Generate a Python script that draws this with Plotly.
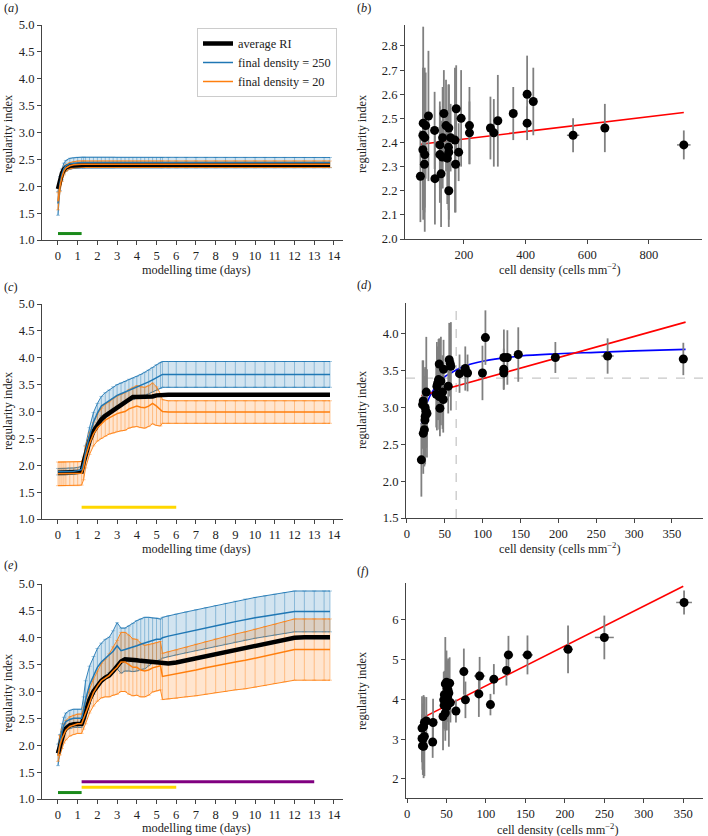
import plotly.graph_objects as go

# ---------------------------------------------------------------- data
T = [0, 0.1, 0.2, 0.3, 0.4, 0.6, 0.8, 1.0, 1.2, 1.3, 1.4,
     1.6, 1.8, 2.0, 2.2, 2.4, 2.6, 2.8, 3.0, 3.2, 3.4, 3.6, 3.8, 4.0, 4.2,
     4.4, 4.6, 4.8, 5.0, 5.2, 5.3, 5.6,
     6.0, 6.5, 7.0, 7.5, 8.0, 8.5, 9.0, 9.5, 10.0, 10.5, 11.0, 11.5, 12.0,
     12.5, 13.0, 13.5, 13.8]

# panel (a)
a_avg = [1.95, 2.12, 2.24, 2.31, 2.35, 2.38, 2.39, 2.40, 2.40, 2.40, 2.40,
         2.40, 2.40, 2.40, 2.40, 2.40, 2.40, 2.40, 2.40, 2.40, 2.40, 2.40, 2.40, 2.40, 2.40,
         2.40, 2.40, 2.40, 2.40, 2.40, 2.40, 2.40,
         2.40, 2.40, 2.40, 2.40, 2.40, 2.40, 2.40, 2.40, 2.40, 2.40, 2.40, 2.40, 2.40,
         2.40, 2.40, 2.40, 2.40]
a_blue = [1.68, 2.05, 2.22, 2.33, 2.38, 2.42, 2.43, 2.44, 2.44, 2.44, 2.44,
          2.44, 2.44, 2.44, 2.44, 2.44, 2.44, 2.44, 2.44, 2.44, 2.44, 2.44, 2.44, 2.44, 2.44,
          2.44, 2.44, 2.44, 2.44, 2.44, 2.44, 2.44,
          2.44, 2.44, 2.44, 2.44, 2.44, 2.44, 2.44, 2.44, 2.44, 2.44, 2.44, 2.44, 2.44,
          2.44, 2.44, 2.44, 2.44]
a_blue_err = [0.22, 0.13, 0.10, 0.10, 0.10, 0.10, 0.10, 0.10, 0.10, 0.10, 0.10,
              0.10, 0.10, 0.10, 0.10, 0.10, 0.10, 0.10, 0.095, 0.095, 0.095, 0.095, 0.095, 0.095, 0.095,
              0.095, 0.095, 0.095, 0.095, 0.095, 0.095, 0.095,
              0.095, 0.095, 0.095, 0.095, 0.095, 0.095, 0.095, 0.095, 0.095, 0.095, 0.095, 0.095, 0.095,
              0.095, 0.095, 0.095, 0.095]
a_orange = [1.72, 2.00, 2.17, 2.28, 2.34, 2.38, 2.40, 2.41, 2.41, 2.41, 2.41,
            2.41, 2.41, 2.41, 2.41, 2.41, 2.41, 2.41, 2.41, 2.41, 2.41, 2.41, 2.41, 2.41, 2.41,
            2.41, 2.41, 2.41, 2.41, 2.41, 2.41, 2.41,
            2.41, 2.41, 2.41, 2.41, 2.41, 2.41, 2.41, 2.41, 2.41, 2.41, 2.41, 2.41, 2.41,
            2.41, 2.41, 2.41, 2.41]
a_orange_err = [0.16, 0.10, 0.08, 0.07, 0.06, 0.06, 0.06, 0.06, 0.06, 0.06, 0.06,
                0.06, 0.06, 0.06, 0.06, 0.06, 0.06, 0.06, 0.06, 0.06, 0.06, 0.06, 0.06, 0.06, 0.06,
                0.06, 0.06, 0.06, 0.06, 0.06, 0.06, 0.06,
                0.06, 0.06, 0.06, 0.06, 0.06, 0.06, 0.06, 0.06, 0.06, 0.06, 0.06, 0.06, 0.06,
                0.06, 0.06, 0.06, 0.06]

# panel (c)
c_avg = [1.86, 1.86, 1.86, 1.86, 1.86, 1.87, 1.87, 1.88, 1.88, 2.05, 2.20,
         2.45, 2.63, 2.75, 2.85, 2.92, 2.97, 3.02, 3.07, 3.12, 3.17, 3.23, 3.27, 3.27, 3.27,
         3.27, 3.27, 3.28, 3.30, 3.31, 3.31, 3.31,
         3.31, 3.31, 3.31, 3.31, 3.31, 3.31, 3.31, 3.31, 3.31, 3.31, 3.31, 3.31, 3.31,
         3.31, 3.31, 3.31, 3.31]
c_blue = [1.88, 1.88, 1.88, 1.88, 1.88, 1.89, 1.89, 1.90, 1.92, 2.05, 2.25,
          2.55, 2.80, 2.97, 3.10, 3.15, 3.20, 3.26, 3.30, 3.33, 3.36, 3.40, 3.42, 3.45, 3.48,
          3.51, 3.55, 3.59, 3.63, 3.67, 3.69, 3.69,
          3.69, 3.69, 3.69, 3.69, 3.69, 3.69, 3.69, 3.69, 3.69, 3.69, 3.69, 3.69, 3.69,
          3.69, 3.69, 3.69, 3.69]
c_blue_err = [0.06, 0.06, 0.06, 0.06, 0.06, 0.06, 0.06, 0.06, 0.06, 0.10, 0.12,
              0.15, 0.18, 0.18, 0.18, 0.20, 0.20, 0.20, 0.20, 0.20, 0.20, 0.20, 0.20, 0.20, 0.21,
              0.22, 0.22, 0.23, 0.24, 0.24, 0.24, 0.24,
              0.24, 0.24, 0.24, 0.24, 0.24, 0.24, 0.24, 0.24, 0.24, 0.24, 0.24, 0.24, 0.24,
              0.24, 0.24, 0.24, 0.24]
c_orange = [1.84, 1.84, 1.84, 1.84, 1.84, 1.84, 1.84, 1.84, 1.85, 1.95, 2.15,
            2.40, 2.58, 2.70, 2.78, 2.84, 2.88, 2.92, 2.96, 2.98, 3.00, 3.05, 3.08, 3.10, 3.08,
            3.07, 3.10, 3.15, 3.10, 3.03, 3.00, 2.99,
            2.99, 2.99, 2.99, 2.99, 2.99, 2.99, 2.99, 2.99, 2.99, 2.99, 2.99, 2.99, 2.99,
            2.99, 2.99, 2.99, 2.99]
c_orange_err = [0.22, 0.22, 0.22, 0.22, 0.22, 0.22, 0.22, 0.22, 0.22, 0.22, 0.20,
                0.20, 0.22, 0.25, 0.28, 0.30, 0.30, 0.32, 0.33, 0.34, 0.35, 0.36, 0.37, 0.38, 0.38,
                0.38, 0.38, 0.38, 0.36, 0.30, 0.22, 0.21,
                0.21, 0.21, 0.21, 0.21, 0.21, 0.21, 0.21, 0.21, 0.21, 0.21, 0.21, 0.21, 0.21,
                0.21, 0.21, 0.21, 0.21]

# panel (e)
e_avg = [1.85, 2.00, 2.15, 2.25, 2.31, 2.37, 2.39, 2.40, 2.40, 2.50, 2.63,
         2.85, 3.00, 3.10, 3.20, 3.26, 3.30, 3.38, 3.47, 3.56, 3.60, 3.60, 3.59, 3.58, 3.57,
         3.56, 3.56, 3.55, 3.55, 3.53, 3.52, 3.52,
         3.54, 3.58, 3.62, 3.66, 3.70, 3.73, 3.77, 3.81, 3.85, 3.88, 3.92, 3.96, 4.00,
         4.01, 4.01, 4.01, 4.01]
e_blue = [1.82, 2.05, 2.25, 2.37, 2.44, 2.48, 2.50, 2.50, 2.50, 2.65, 2.85,
          3.12, 3.30, 3.45, 3.55, 3.62, 3.68, 3.75, 3.85, 3.76, 3.78, 3.80, 3.82, 3.85, 3.88,
          3.90, 3.93, 3.95, 3.97, 3.97, 4.00, 4.03,
          4.06, 4.10, 4.14, 4.18, 4.22, 4.26, 4.30, 4.34, 4.37, 4.40, 4.43, 4.46, 4.49,
          4.49, 4.49, 4.49, 4.49]
e_blue_err = [0.20, 0.15, 0.15, 0.15, 0.16, 0.17, 0.17, 0.17, 0.17, 0.25, 0.35,
              0.35, 0.35, 0.35, 0.35, 0.35, 0.33, 0.38, 0.43, 0.42, 0.40, 0.42, 0.45, 0.47, 0.47,
              0.48, 0.45, 0.42, 0.40, 0.38, 0.38, 0.38,
              0.38, 0.38, 0.38, 0.38, 0.38, 0.38, 0.38, 0.38, 0.38, 0.38, 0.38, 0.38, 0.38,
              0.38, 0.38, 0.38, 0.38]
e_orange = [1.80, 2.00, 2.12, 2.22, 2.28, 2.35, 2.38, 2.40, 2.40, 2.50, 2.60,
            2.82, 2.98, 3.10, 3.20, 3.25, 3.30, 3.38, 3.45, 3.55, 3.55, 3.50, 3.45, 3.45, 3.40,
            3.38, 3.40, 3.44, 3.46, 3.48, 3.28, 3.30,
            3.32, 3.36, 3.40, 3.44, 3.48, 3.51, 3.55, 3.58, 3.62, 3.66, 3.70, 3.74, 3.78,
            3.78, 3.78, 3.78, 3.78]
e_orange_err = [0.10, 0.18, 0.18, 0.18, 0.18, 0.18, 0.18, 0.18, 0.18, 0.20, 0.20,
                0.22, 0.25, 0.28, 0.32, 0.35, 0.40, 0.45, 0.50, 0.55, 0.55, 0.55, 0.53, 0.52, 0.50,
                0.48, 0.47, 0.45, 0.45, 0.45, 0.43, 0.44,
                0.45, 0.46, 0.48, 0.49, 0.50, 0.51, 0.52, 0.53, 0.54, 0.55, 0.55, 0.56, 0.57,
                0.57, 0.57, 0.57, 0.57]

# phase bars (start day, end day, level)
green_phase = [0.0, 1.2, 1.12]
yellow_phase = [1.2, 6.0, 1.22]
purple_phase = [1.2, 13.0, 1.32]

# panel (b)
b_x = [59, 67, 68, 67, 73, 73, 72, 76, 85, 105, 106, 122, 126, 122, 131, 135, 130, 142, 146,
       151, 150, 151, 151, 157, 171, 175, 173, 183, 191, 218, 218, 286, 297, 310, 360, 405,
       405, 425, 554, 657, 913]
b_y = [2.26, 2.37, 2.48, 2.43, 2.42, 2.35, 2.31, 2.47, 2.51, 2.45, 2.25, 2.39, 2.27, 2.35,
       2.42, 2.52, 2.34, 2.47, 2.335, 2.46, 2.38, 2.36, 2.20, 2.42, 2.41, 2.54, 2.31, 2.36,
       2.50, 2.47, 2.44, 2.46, 2.44, 2.49, 2.52, 2.60, 2.48, 2.57, 2.43, 2.46, 2.39]
b_yerr = [0.19, 0.25, 0.40, 0.28, 0.29, 0.32, 0.20, 0.22, 0.27, 0.16, 0.19, 0.18, 0.22, 0.20,
          0.21, 0.18, 0.13, 0.19, 0.19, 0.18, 0.26, 0.28, 0.15, 0.14, 0.30, 0.18, 0.20, 0.12,
          0.20, 0.16, 0.13, 0.13, 0.14, 0.19, 0.11, 0.16, 0.07, 0.14, 0.07, 0.10, 0.06]
b_xerr = [3, 3, 3, 3, 3, 3, 3, 3, 3, 4, 4, 4, 4, 4, 4, 4, 4, 4, 4, 4, 4, 4, 4, 4, 4, 4, 4, 4,
          4, 5, 5, 8, 5, 5, 6, 12, 6, 5, 20, 12, 22]
b_fit_x = [59, 913]
b_fit_y = [2.393, 2.524]

# panel (d)
d_x = [19, 21.5, 23, 20.6, 21.5, 23.7, 24, 25, 26.4, 24, 25.5, 38.6, 39.5, 40.5, 41.7, 42.6,
       43.5, 42.6, 44.8, 47, 47.9, 48.3, 54.5, 55.8, 58, 57, 69.4, 77, 80, 99.7, 103.6,
       127.8, 127.8, 128, 132.6, 147, 196, 265, 365]
d_y = [2.29, 2.65, 2.70, 3.04, 3.09, 2.83, 2.88, 2.95, 2.92, 3.00, 3.21, 3.18, 3.29, 3.33,
       3.38, 3.59, 2.99, 3.15, 3.36, 3.21, 3.11, 3.52, 3.29, 3.65, 3.56, 3.60, 3.46, 3.53,
       3.47, 3.47, 3.95, 3.52, 3.47, 3.68, 3.68, 3.72, 3.68, 3.70, 3.66]
d_yerr = [0.50, 0.55, 0.50, 0.60, 0.55, 0.60, 0.65, 0.50, 0.60, 0.55, 0.75, 0.45, 0.60, 0.50,
          0.55, 0.35, 0.38, 0.45, 0.60, 0.50, 0.45, 0.40, 0.37, 0.50, 0.60, 0.40, 0.26, 0.30,
          0.25, 0.37, 0.37, 0.28, 0.22, 0.38, 0.37, 0.37, 0.21, 0.24, 0.22]
d_xerr = [1, 1, 1, 1, 1, 1, 1, 1, 1, 1, 1, 1, 1, 1, 1, 1, 1, 1, 1, 1, 1, 1, 1, 1, 1, 1, 2, 2,
          3, 2, 2, 3, 3, 4, 3, 6, 3, 8, 6]
d_fit_x = [19, 368]
d_fit_y = [3.16, 4.16]
d_curve_x = [19, 22, 25, 30, 35, 40, 50, 60, 75, 100, 150, 200, 250, 300, 368]
d_curve_y = [2.77, 2.92, 3.02, 3.15, 3.24, 3.31, 3.42, 3.48, 3.56, 3.63, 3.70, 3.73, 3.75,
             3.77, 3.79]
d_threshold_x = 65
d_threshold_y = 3.4

# panel (f)
f_x = [351, 250, 204, 152.6, 128.5, 126, 110, 105.7, 92, 91, 74, 72, 62, 33, 32.5,
       21, 19.5, 19, 21, 22, 24.5, 22, 20, 19,
       45.6, 46.5, 47.3, 48.5, 50, 51, 51.5, 53, 54, 53, 50.5, 48.5, 55, 52, 49, 47]
f_y = [6.44, 5.56, 5.26, 5.12, 5.12, 4.73, 4.51, 3.87, 4.59, 4.14, 3.99, 4.70, 3.71, 3.42, 2.93,
       2.82, 2.83, 3.02, 3.31, 3.42, 3.46, 3.07, 3.00, 3.28,
       3.57, 3.99, 4.12, 4.39, 4.43, 4.28, 4.07, 3.91, 4.41, 4.16, 3.82, 3.66, 3.92, 4.23, 4.07, 3.85]
f_yerr = [0.30, 0.55, 0.60, 0.49, 0.48, 0.38, 0.38, 0.27, 0.48, 0.58, 0.46, 0.58, 0.29, 0.60, 0.40,
          0.80, 0.60, 0.60, 0.80, 0.60, 0.60, 1.00, 0.90, 0.80,
          0.85, 0.70, 0.60, 1.18, 0.80, 0.70, 0.60, 1.10, 0.65, 0.50, 0.60, 0.70, 0.50, 0.80, 0.50, 0.60]
f_xerr = [10, 12, 6, 7, 6, 2, 4, 5, 7, 3, 2, 3, 2, 1, 1,
          1, 1, 1, 1, 1, 1, 1, 1, 1,
          1, 1, 1, 1, 1, 1, 1, 1, 1, 1, 1, 1, 1, 1, 1, 1]
f_fit_x = [19, 350]
f_fit_y = [3.53, 6.85]

TIME_TICKS = [0, 1, 2, 3, 4, 5, 6, 7, 8, 9, 10, 11, 12, 13, 14]
RI_TICKS = [1.0, 1.5, 2.0, 2.5, 3.0, 3.5, 4.0, 4.5, 5.0]
B_XTICKS = [200, 400, 600, 800]
B_YTICKS = [2.0, 2.1, 2.2, 2.3, 2.4, 2.5, 2.6, 2.7, 2.8]
D_XTICKS = [0, 50, 100, 150, 200, 250, 300, 350]
D_YTICKS = [1.5, 2.0, 2.5, 3.0, 3.5, 4.0]
F_YTICKS = [2, 3, 4, 5, 6]

# ---------------------------------------------------------------- styling
W, H = 708, 836
FONT = "Liberation Serif"
FS_TICK = 12.6
FS = 12.3
BLUE = (31, 119, 180)
ORANGE = (255, 127, 14)


def rgba(c, a):
    return f"rgba({c[0]},{c[1]},{c[2]},{a})"


fig = go.Figure()


def add_timeseries(xa, ya, avg, blue, blue_err, orange, orange_err, legend):
    series = [(blue, blue_err, BLUE, "final density = 250", 2),
              (orange, orange_err, ORANGE, "final density = 20", 3)]
    for mean, err, col, name, rank in series:
        lo = [m - e for m, e in zip(mean, err)]
        hi = [m + e for m, e in zip(mean, err)]
        fig.add_trace(go.Scatter(x=T, y=lo, mode="lines", xaxis=xa, yaxis=ya,
                                 line=dict(color=rgba(col, 0.9), width=1),
                                 showlegend=False, hoverinfo="skip"))
        fig.add_trace(go.Scatter(x=T, y=hi, mode="lines", xaxis=xa, yaxis=ya,
                                 fill="tonexty", fillcolor=rgba(col, 0.2),
                                 line=dict(color=rgba(col, 0.9), width=1),
                                 showlegend=False, hoverinfo="skip"))
        fig.add_trace(go.Scatter(x=T, y=mean, mode="markers", xaxis=xa, yaxis=ya,
                                 marker=dict(size=1, color="rgba(0,0,0,0)"),
                                 error_y=dict(type="data", array=err, color=rgba(col, 0.5),
                                              thickness=0.8, width=2),
                                 showlegend=False, hoverinfo="skip"))
    fig.add_trace(go.Scatter(x=T, y=avg, mode="lines", xaxis=xa, yaxis=ya,
                             line=dict(color="black", width=4.5), name="average RI",
                             legendrank=1, showlegend=legend))
    for mean, err, col, name, rank in series:
        fig.add_trace(go.Scatter(x=T, y=mean, mode="lines", xaxis=xa, yaxis=ya,
                                 line=dict(color=rgba(col, 1), width=1.5), name=name,
                                 legendrank=rank, showlegend=legend))


def add_phase(xa, ya, phase, color):
    fig.add_trace(go.Scatter(x=phase[:2], y=[phase[2], phase[2]], mode="lines",
                             xaxis=xa, yaxis=ya, line=dict(color=color, width=3),
                             showlegend=False, hoverinfo="skip"))


def add_scatter(xa, ya, x, y, xerr, yerr, fit_x, fit_y):
    fig.add_trace(go.Scatter(x=fit_x, y=fit_y, mode="lines", xaxis=xa, yaxis=ya,
                             line=dict(color="#ff0000", width=1.6), showlegend=False))
    fig.add_trace(go.Scatter(x=x, y=y, mode="markers", xaxis=xa, yaxis=ya,
                             marker=dict(color="black", size=9),
                             error_y=dict(type="data", array=yerr, color="#808080",
                                          thickness=1.8, width=0),
                             error_x=dict(type="data", array=xerr, color="#808080",
                                          thickness=1.5, width=0),
                             showlegend=False))


add_timeseries("x", "y", a_avg, a_blue, a_blue_err, a_orange, a_orange_err, True)
add_phase("x", "y", green_phase, "#1a8a1a")

add_scatter("x2", "y2", b_x, b_y, b_xerr, b_yerr, b_fit_x, b_fit_y)

add_timeseries("x3", "y3", c_avg, c_blue, c_blue_err, c_orange, c_orange_err, False)
add_phase("x3", "y3", yellow_phase, "#ffd700")

fig.add_trace(go.Scatter(x=d_curve_x, y=d_curve_y, mode="lines", xaxis="x4", yaxis="y4",
                         line=dict(color="#0000ff", width=1.6, shape="spline"),
                         showlegend=False))
add_scatter("x4", "y4", d_x, d_y, d_xerr, d_yerr, d_fit_x, d_fit_y)

add_timeseries("x5", "y5", e_avg, e_blue, e_blue_err, e_orange, e_orange_err, False)
add_phase("x5", "y5", green_phase, "#1a8a1a")
add_phase("x5", "y5", yellow_phase, "#ffd700")
add_phase("x5", "y5", purple_phase, "#800080")

add_scatter("x6", "y6", f_x, f_y, f_xerr, f_yerr, f_fit_x, f_fit_y)


def px_x(a, b):
    return [a / W, b / W]


def px_y(top, bottom):
    return [1 - bottom / H, 1 - top / H]


base = dict(showline=True, linecolor="#444", linewidth=1, ticks="outside", ticklen=4,
            tickcolor="#444", tickwidth=1, showgrid=False, zeroline=False, automargin=False,
            tickfont=dict(family=FONT, size=FS_TICK, color="#222"), tickmode="array")

axes = {
    "xaxis": dict(domain=px_x(42, 343), range=[-0.81, 14.46], tickvals=TIME_TICKS, anchor="y"),
    "yaxis": dict(domain=px_y(25, 240), range=[1.0, 5.0], tickvals=RI_TICKS, tickformat=".1f", anchor="x"),
    "xaxis2": dict(domain=px_x(405, 702), range=[9, 972], tickvals=B_XTICKS, anchor="y2"),
    "yaxis2": dict(domain=px_y(25, 239), range=[2.0, 2.887], tickvals=B_YTICKS, tickformat=".1f", anchor="x2"),
    "xaxis3": dict(domain=px_x(42, 343), range=[-0.81, 14.46], tickvals=TIME_TICKS, anchor="y3"),
    "yaxis3": dict(domain=px_y(304, 519), range=[1.0, 5.0], tickvals=RI_TICKS, tickformat=".1f", anchor="x3"),
    "xaxis4": dict(domain=px_x(406, 703), range=[-1.3, 391], tickvals=D_XTICKS, anchor="y4"),
    "yaxis4": dict(domain=px_y(303, 518), range=[1.5, 4.42], tickvals=D_YTICKS, tickformat=".1f", anchor="x4"),
    "xaxis5": dict(domain=px_x(42, 343), range=[-0.81, 14.46], tickvals=TIME_TICKS, anchor="y5"),
    "yaxis5": dict(domain=px_y(584, 799), range=[1.0, 5.0], tickvals=RI_TICKS, tickformat=".1f", anchor="x5"),
    "xaxis6": dict(domain=px_x(406, 703), range=[-1.3, 375], tickvals=D_XTICKS, anchor="y6"),
    "yaxis6": dict(domain=px_y(583, 798), range=[1.52, 6.93], tickvals=F_YTICKS, anchor="x6"),
}
for k, v in axes.items():
    d = dict(base)
    d.update(v)
    axes[k] = d

shapes = [
    dict(type="line", xref="x4", yref="y4 domain", x0=d_threshold_x, x1=d_threshold_x, y0=0, y1=1,
         line=dict(color="#c8c8c8", width=1.3, dash="dash"), layer="below"),
    dict(type="line", xref="x4 domain", yref="y4", x0=0, x1=1, y0=d_threshold_y, y1=d_threshold_y,
         line=dict(color="#c8c8c8", width=1.3, dash="dash"), layer="below"),
]


def ann(text, x, y, angle=0, xanchor="center", size=FS):
    return dict(text=text, x=x / W, y=1 - y / H, xref="paper", yref="paper",
                showarrow=False, textangle=angle, xanchor=xanchor, yanchor="middle",
                font=dict(family=FONT, size=size, color="#222"))


TIME_LABEL = "modelling time (days)"
DENS_LABEL = "cell density (cells mm<sup>\u22122</sup>)"
RI_LABEL = "regularity index"
annotations = [
    ann("(<i>a</i>)", 2, 8, xanchor="left"),
    ann("(<i>b</i>)", 355, 8, xanchor="left"),
    ann("(<i>c</i>)", 2, 287, xanchor="left"),
    ann("(<i>d</i>)", 355, 285, xanchor="left"),
    ann("(<i>e</i>)", 2, 565, xanchor="left"),
    ann("(<i>f</i>)", 355, 571, xanchor="left"),
    ann(RI_LABEL, 8, 134, angle=-90),
    ann(RI_LABEL, 362, 134, angle=-90),
    ann(RI_LABEL, 8, 411, angle=-90),
    ann(RI_LABEL, 362, 410, angle=-90),
    ann(RI_LABEL, 8, 693, angle=-90),
    ann(RI_LABEL, 362, 691, angle=-90),
    ann(TIME_LABEL, 196, 270),
    ann(DENS_LABEL, 560, 269),
    ann(TIME_LABEL, 196, 549),
    ann(DENS_LABEL, 560, 548),
    ann(TIME_LABEL, 196, 828),
    ann(DENS_LABEL, 558, 828.5),
]

fig.update_layout(
    width=W, height=H,
    margin=dict(l=0, r=0, t=0, b=0),
    paper_bgcolor="white", plot_bgcolor="white",
    font=dict(family=FONT, size=FS, color="#222"),
    showlegend=True,
    legend=dict(x=337 / W, y=1 - 28 / H, xanchor="right", yanchor="top",
                bgcolor="white", bordercolor="#cccccc", borderwidth=1,
                font=dict(family=FONT, size=FS, color="#222"),
                traceorder="normal", tracegroupgap=0, itemwidth=30),
    shapes=shapes,
    annotations=annotations,
    **axes,
)

fig.write_html("out.html", config={"displayModeBar": False},
               post_script="document.body.style.margin='0px';document.body.style.padding='0px';")
